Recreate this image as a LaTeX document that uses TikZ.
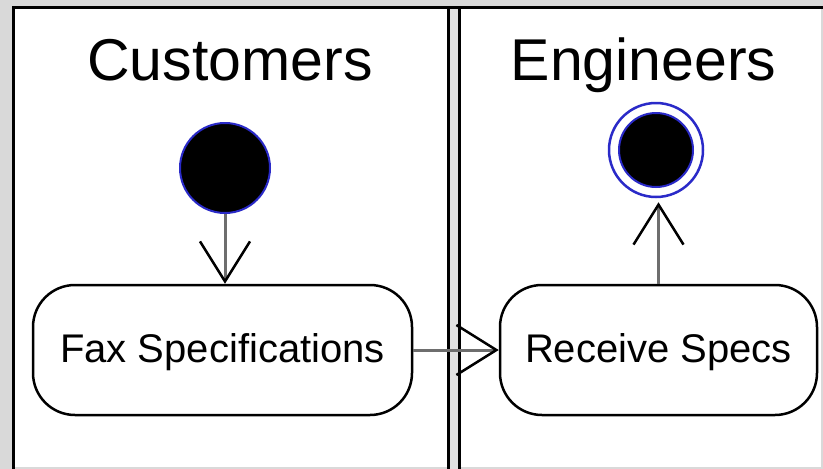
\documentclass[tikz,border=0pt]{standalone}
\usepackage{fontspec}
\setmainfont{Liberation Sans}
\usetikzlibrary{arrows.meta}
\definecolor{bggray}{HTML}{D9D9D9}
\definecolor{rimblue}{HTML}{2A2AC8}
\definecolor{shaft}{HTML}{6E6E6E}

\begin{document}
\begin{tikzpicture}[x=1pt,y=-1pt,
  lane/.style={line width=3pt, black},
  title/.style={font=\fontsize{59}{60}\selectfont, anchor=base, inner sep=0pt},
  activity/.style={draw=black, line width=2.5pt, rounded corners=42pt,
    minimum height=130pt, font=\fontsize{40}{42}\selectfont,
    text height=30pt, text depth=6pt, inner sep=0pt, fill=white},
  flow/.style={draw=shaft, line width=3pt,
    -{Straight Barb[length=40pt,width=50pt,line width=2.5pt,color=black]}},
  startnode/.style={circle, fill=black, draw=rimblue, line width=2pt, inner sep=0pt}
]
  % canvas and swimlanes
  \useasboundingbox (0,0) rectangle (823,469);
  \fill[bggray] (0,0) rectangle (823,469);
  \fill[white] (12,6) rectangle (821,467);
  \fill[black!12] (450,8) rectangle (458,469);
  \draw[lane] (12,7.5) -- (823,7.5);
  \draw[lane] (13.5,6) -- (13.5,469);
  \draw[lane] (448.5,6) -- (448.5,469);
  \draw[lane] (459.5,6) -- (459.5,469);

  % lane titles
  \node[title] (custtitle) at (230,80) {Customers};
  \node[title] (engtitle) at (643.5,80) {Engineers};

  % initial and final states
  \node[startnode, minimum size=90pt] (start) at (225,168) {};
  \node[circle, draw=rimblue, line width=2.5pt, fill=white, minimum size=94pt, inner sep=0pt] (end) at (656,150) {};
  \node[startnode, minimum size=74pt] (endcore) at (end.center) {};

  % activities
  \node[activity, minimum width=379pt] (fax) at (222.5,350) {Fax Specifications};
  \node[activity, minimum width=317pt] (recv) at (658.5,350) {Receive Specs};

  % control flows
  \draw[flow] (start.south) -- (start.south |- fax.north);
  \draw[flow] (fax.east) -- (recv.west);
  \draw[flow, shorten >=4pt] (recv.north) -- (recv.north |- end.south);
\end{tikzpicture}
\end{document}
